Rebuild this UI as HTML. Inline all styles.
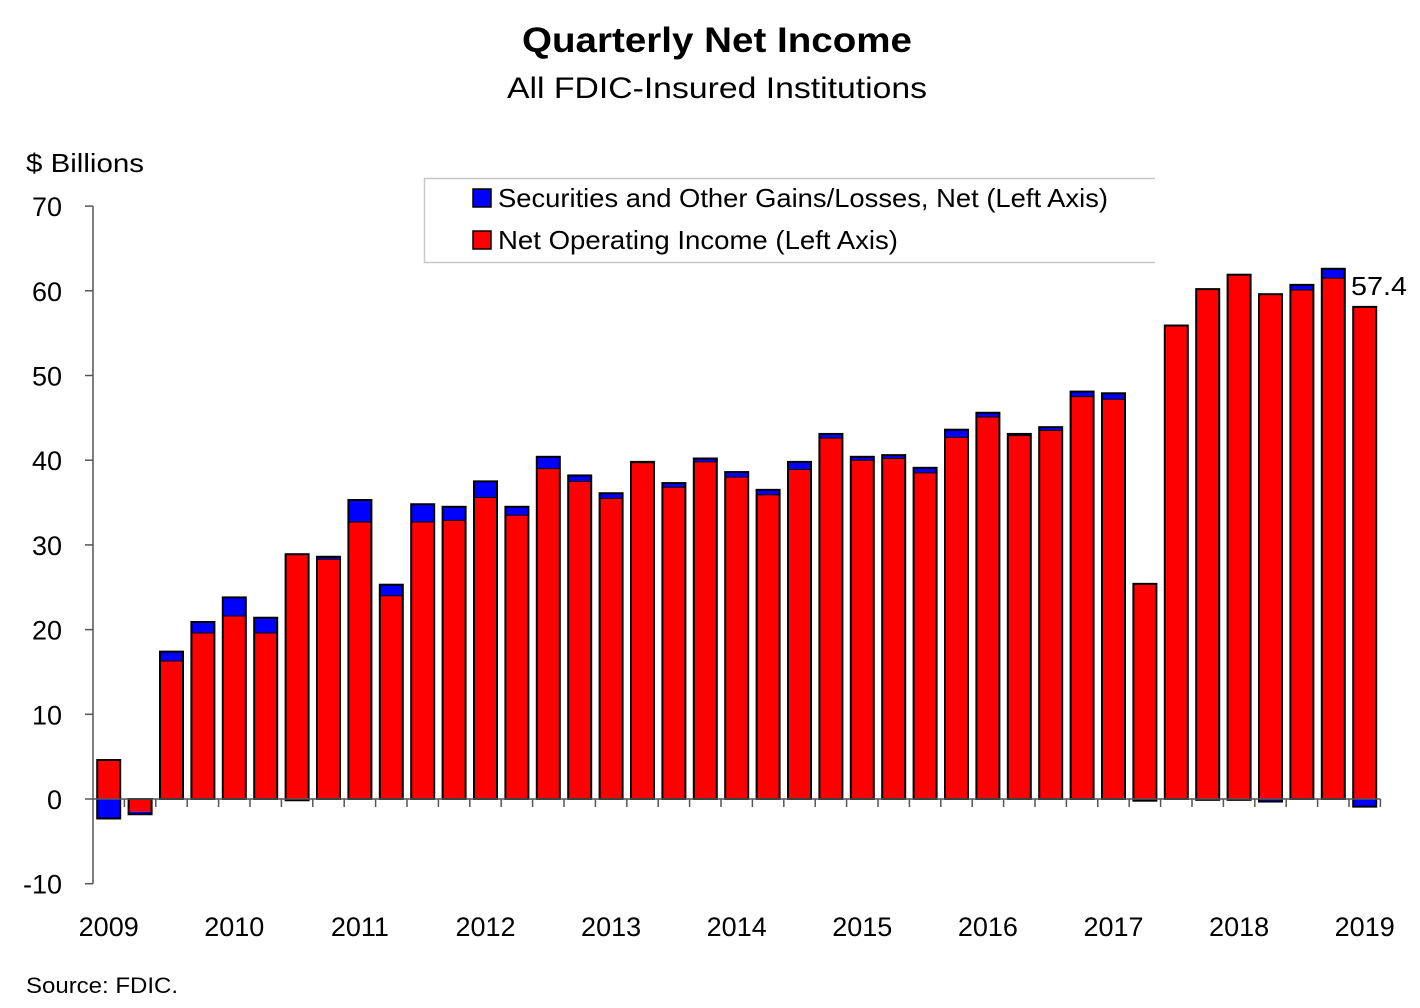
<!DOCTYPE html>
<html><head><meta charset="utf-8"><style>
html,body{margin:0;padding:0;background:#fff;}
svg{display:block;font-family:"Liberation Sans",sans-serif;}
</style></head><body>
<svg id="c" width="1420" height="1008" viewBox="0 0 1420 1008" xmlns="http://www.w3.org/2000/svg">
<text x="717" y="52" text-anchor="middle" font-size="35" font-weight="bold" textLength="390" lengthAdjust="spacingAndGlyphs">Quarterly Net Income</text>
<text x="717" y="98" text-anchor="middle" font-size="30" textLength="420" lengthAdjust="spacingAndGlyphs">All FDIC-Insured Institutions</text>
<text x="26" y="172" font-size="26" textLength="118" lengthAdjust="spacingAndGlyphs">$ Billions</text>
<text x="26" y="993" font-size="22" textLength="152" lengthAdjust="spacingAndGlyphs">Source:  FDIC.</text>
<path d="M1155 178.5 H424.5 V262.5 H1155" fill="none" stroke="#c8c8c8" stroke-width="1.5"/>
<rect x="473" y="189" width="18" height="18" fill="#0000ff" stroke="#000" stroke-width="1.5"/>
<text x="498" y="207" font-size="26" textLength="610" lengthAdjust="spacingAndGlyphs">Securities and Other Gains/Losses, Net  (Left Axis)</text>
<rect x="473" y="231" width="18" height="18" fill="#ff0000" stroke="#000" stroke-width="1.5"/>
<text x="498" y="249" font-size="26" textLength="400" lengthAdjust="spacingAndGlyphs">Net Operating Income (Left Axis)</text>
<text x="1351" y="295" font-size="26" textLength="56" lengthAdjust="spacingAndGlyphs">57.4</text>
<g id="g"></g>
</svg>
<script>
var g=document.getElementById('g');
var ns='http://www.w3.org/2000/svg';
function el(t,a,txt){var e=document.createElementNS(ns,t);for(var k in a)e.setAttribute(k,a[k]);if(txt!=null)e.textContent=txt;g.appendChild(e);return e;}
var Y0=799,S=8.47;function y(v){return Y0-v*S;}
var AX=93,W=31.4;
el('line',{x1:AX,y1:y(70),x2:AX,y2:y(-10),stroke:'#555','stroke-width':1.5});
for(var v=-10;v<=70;v+=10){el('line',{x1:AX-8,y1:y(v),x2:AX,y2:y(v),stroke:'#555','stroke-width':1.5});
el('text',{x:62,y:y(v)+10,'text-anchor':'end','font-size':27},String(v));}
var d=[[4.6,-2.3],[-1.5,-0.3],[16.3,1.1],[19.6,1.3],[21.6,2.2],[19.6,1.8],[28.9,-0.15],[28.3,0.3],[32.7,2.6],[24.0,1.3],[32.7,2.1],[32.9,1.6],[35.6,1.9],[33.5,1.0],[39.0,1.4],[37.5,0.7],[35.5,0.6],[39.7,0.1],[36.8,0.5],[39.8,0.4],[38.0,0.6],[35.9,0.6],[38.9,0.9],[42.6,0.5],[40.0,0.4],[40.2,0.4],[38.5,0.6],[42.7,0.9],[45.1,0.5],[42.9,0.2],[43.5,0.4],[47.5,0.6],[47.2,0.7],[25.4,-0.2],[55.9,0],[60.2,-0.1],[61.9,-0.1],[59.6,-0.3],[60.1,0.6],[61.5,1.1],[58.1,-0.9]];
var bw=23;
d.forEach(function(p,i){var cx=AX+W*(i+0.5),x=cx-bw/2,r=p[0],b=p[1];
 if(r>=0){ if(b>=0){el('rect',{x:x,y:y(r+b),width:bw,height:b*S,fill:'#0000ff'});} else {el('rect',{x:x,y:y(0),width:bw,height:-b*S,fill:'#0000ff'});}
   el('rect',{x:x,y:y(r),width:bw,height:r*S,fill:'#ff0000'});
   var lo=b<0?b:0,top=r+(b>0?b:0);
   el('rect',{x:x,y:y(top),width:bw,height:(top-lo)*S,fill:'none',stroke:'#000','stroke-width':2});
   if(b>0)el('line',{x1:x,y1:y(r),x2:x+bw,y2:y(r),stroke:'#000','stroke-width':1});
   if(b<0)el('line',{x1:x,y1:y(0),x2:x+bw,y2:y(0),stroke:'#000','stroke-width':1});
 } else {
   el('rect',{x:x,y:y(0),width:bw,height:-r*S,fill:'#ff0000'});
   el('rect',{x:x,y:y(r),width:bw,height:-b*S,fill:'#0000ff'});
   el('rect',{x:x,y:y(0),width:bw,height:-(r+b)*S,fill:'none',stroke:'#000','stroke-width':2});
 }
});
el('line',{x1:AX,y1:Y0,x2:AX+W*41,y2:Y0,stroke:'#555','stroke-width':1.5});
for(var i=1;i<=41;i++){var tx=AX+W*i;el('line',{x1:tx,y1:Y0,x2:tx,y2:Y0+8,stroke:'#555','stroke-width':1.5});}
for(var k=0;k<=10;k++){el('text',{x:AX+W*(4*k+0.5),y:936,'text-anchor':'middle','font-size':27},String(2009+k));}
</script>
</body></html>
